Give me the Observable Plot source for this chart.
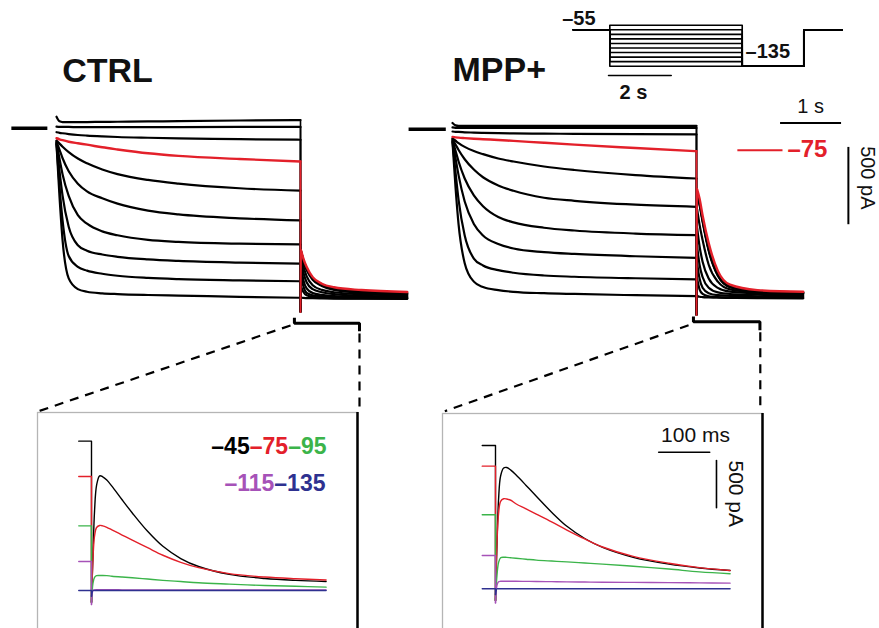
<!DOCTYPE html>
<html><head><meta charset="utf-8">
<script src="https://cdn.jsdelivr.net/npm/d3@7"></script>
<script src="https://cdn.jsdelivr.net/npm/@observablehq/plot@0.6"></script>
<style>
body{margin:0;background:#fff;}
#fig{position:relative;width:879px;height:628px;overflow:hidden;background:#fff;}
#fig svg{position:absolute;}
</style></head><body><div id="fig"></div>
<script>
// ---------- data ----------
const stepVoltages = [-45,-55,-65,-75,-85,-95,-105,-115,-125,-135]; // mV
const redVoltage = -75;
const stepTimes = [0,0.05,0.1,0.2,0.35,0.5,0.75,1,1.5,2,3,4];        // s
const stepDuration = 4;
const tailTimes = [0.01,0.05,0.1,0.2,0.35,0.55,1.0,1.75];            // s after step end

const ctrlStepCurrents = [ // pA
  [75,45,40,39,39,40,41,42,44,46,50,53],
  [10,8,8,8,7,7,7,7,7,7,8,8],
  [-26,-30,-33,-38,-44,-48,-53,-57,-62,-66,-71,-75],
  [-65,-72,-78,-88,-98,-107,-124,-138,-163,-180,-200,-216],
  [-80,-100,-120,-155,-197,-228,-268,-298,-336,-360,-390,-405],
  [-85,-140,-195,-280,-360,-410,-455,-490,-535,-560,-585,-599],
  [-90,-200,-300,-440,-565,-620,-670,-695,-725,-738,-750,-755],
  [-95,-280,-440,-640,-760,-795,-820,-835,-852,-862,-873,-880],
  [-100,-380,-600,-830,-900,-925,-945,-958,-972,-980,-988,-994],
  [-105,-450,-730,-975,-1045,-1062,-1072,-1077,-1083,-1087,-1095,-1101]
];
const ctrlTailCurrents = [
  [-800,-860,-910,-975,-1015,-1040,-1060,-1070],
  [-800,-862,-915,-980,-1020,-1045,-1065,-1075],
  [-810,-870,-920,-985,-1025,-1050,-1068,-1078],
  [-794,-850,-900,-967,-1010,-1033,-1051,-1064],
  [-820,-900,-960,-1020,-1050,-1065,-1078,-1085],
  [-850,-940,-1000,-1045,-1065,-1078,-1088,-1092],
  [-900,-990,-1040,-1070,-1082,-1090,-1095,-1098],
  [-960,-1030,-1070,-1085,-1092,-1097,-1100,-1102],
  [-1030,-1065,-1085,-1095,-1100,-1103,-1105,-1106],
  [-1101,-1102,-1103,-1104,-1105,-1106,-1107,-1108]
];
const mppStepCurrents = [
  [40,25,22,22,22,22,22,22,22,22,22,22],
  [12,9,8,8,8,8,8,8,8,8,8,8],
  [-15,-17,-18,-20,-22,-24,-26,-27,-29,-30,-32,-34],
  [-50,-53,-55,-58,-62,-65,-70,-76,-88,-100,-122,-143],
  [-60,-75,-90,-115,-142,-162,-190,-210,-242,-265,-298,-320],
  [-65,-100,-135,-195,-262,-312,-365,-400,-445,-465,-490,-504],
  [-70,-140,-210,-320,-430,-500,-570,-605,-640,-658,-678,-688],
  [-75,-190,-300,-470,-615,-690,-745,-775,-798,-810,-825,-835],
  [-80,-280,-460,-690,-840,-885,-915,-932,-950,-958,-968,-975],
  [-85,-380,-620,-870,-990,-1025,-1045,-1056,-1065,-1070,-1078,-1084]
];
const mppTailCurrents = [
  [-420,-480,-590,-780,-945,-1022,-1050,-1060],
  [-420,-482,-592,-782,-948,-1024,-1052,-1062],
  [-430,-490,-600,-790,-952,-1026,-1054,-1064],
  [-390,-450,-560,-740,-920,-1010,-1045,-1056],
  [-520,-620,-720,-880,-990,-1040,-1058,-1065],
  [-640,-760,-860,-970,-1030,-1055,-1065,-1070],
  [-760,-880,-960,-1030,-1060,-1070,-1075,-1078],
  [-870,-970,-1030,-1065,-1078,-1082,-1085,-1087],
  [-970,-1040,-1070,-1085,-1090,-1092,-1094,-1095],
  [-1084,-1088,-1090,-1092,-1094,-1095,-1097,-1098]
];
const ctrlHoldingTimes = [-0.74,-0.15];
const mppHoldingTimes = [-0.72,-0.11];
const ctrlTransient = -1194, mppTransient = -1207;

// zoom bracket and connector lines, in each panel's (s, pA)
const ctrlBracketT = [3.90,3.90,4.967,4.967], ctrlBracketI = [-1231,-1266,-1266,-1318];
const mppBracketT  = [3.95,3.95,5.04,5.04],   mppBracketI  = [-1216,-1251,-1251,-1305];
const ctrlDiagT = [3.836,-0.311], ctrlDiagI = [-1281,-1840];
const ctrlVertT = [4.967,4.967],  ctrlVertI = [-1333,-1846];
const mppDiagT  = [3.87,-0.126],  mppDiagI  = [-1273,-1831];
const mppVertT  = [5.046,5.046],  mppVertI  = [-1318,-1838];

// scale bars (main traces)
const timeBarT = [5.37,6.37], timeBarI = 40.9;
const currentBarT = 6.49, currentBarI = [-115,-617];
const redKeyT = [4.67,5.41], redKeyI = -136;

// voltage protocol
const protocolTimes = [-1.167,0,4.224,6.188,7.413]; // s
const holdingV = -55, tailV = -135;
const protocolBarT = [-0.041,1.958], protocolBarV = -155.4;

// insets (ms, pA) — tail currents after stepping to -135 mV
const insetTimes = [0,3,6,10,16,22,30,40,60,80,110,140,175,210,270,340,400,460];
const insetLabels = ["–45","–75","–95","–115","–135"];
const ctrlInsetPre = [1589,1213,688,309,0], ctrlInsetPreStart = -25;
const ctrlInsetCurrents = [
  [-124,400,850,1120,1220,1210,1175,1110,965,825,630,470,340,255,172,128,108,96],
  [-124,350,580,670,692,688,672,645,590,535,455,375,300,243,180,143,125,112],
  [-124,80,140,158,160,160,158,152,143,135,122,108,95,82,68,53,45,36],
  [-150,0,6,8,8,8,8,8,7,7,7,7,7,6,6,6,5,5],
  [-60,0,0,0,0,0,0,0,0,0,0,0,0,0,0,0,0,0]
];
const mppInsetPre = [1525,1305,787,354,0], mppInsetPreStart = -26;
const mppInsetCurrents = [
  [-124,500,950,1200,1285,1290,1262,1212,1100,985,815,665,535,440,335,262,222,195],
  [-124,500,800,930,958,955,942,905,850,795,712,625,530,445,345,272,225,195],
  [-124,150,280,330,336,334,330,325,315,305,295,286,274,262,240,210,180,160],
  [-150,40,75,80,81,81,80,80,79,78,76,74,72,70,68,66,63,60],
  [-60,0,0,0,0,0,0,0,0,0,0,0,0,0,0,0,0,0]
];
const insetBarT = [320,420], insetBarI = 1453;
const insetVBarT = 433.3, insetVBarI = [1365,862];

// ---------- drawing ----------
const RED = "#e3202a", GREEN = "#3bb44a", PURPLE = "#a652b8", NAVY = "#2e3190", BOX = "#b5b5b5";
const FONT = '"Liberation Sans", Arial, Helvetica, sans-serif';
const fig = document.getElementById("fig");

function place(svg, left, top) {
  svg.style.left = left + "px"; svg.style.top = top + "px";
  fig.appendChild(svg);
}
function base(w, h, xd, yd, marks) {
  return Plot.plot({
    width: w, height: h, marginTop: 0, marginRight: 0, marginBottom: 0, marginLeft: 0,
    x: {domain: xd, axis: null}, y: {domain: yd, axis: null},
    style: {background: "none", overflow: "visible", fontFamily: FONT, position: "absolute"},
    marks
  });
}
const pts = (T, I) => T.map((t, i) => ({t, I: Array.isArray(I) ? I[i] : I}));

function mainPanel(o) {
  const curves = [], drops = [];
  stepVoltages.forEach((v, k) => {
    const s = o.step[k], tl = o.tail[k];
    stepTimes.forEach((t, i) => curves.push({t, I: s[i], key: v + "s", v}));
    tailTimes.forEach((dt, i) => curves.push({t: stepDuration + dt, I: tl[i], key: v + "t", v}));
    drops.push({t: stepDuration, I: s[s.length - 1], key: v, v});
    drops.push({t: stepDuration, I: o.transient, key: v, v});
    drops.push({t: stepDuration + tailTimes[0], I: tl[0], key: v, v});
  });
  const red = d => d.v === redVoltage, blk = d => d.v !== redVoltage;
  const marks = [
    Plot.line(pts(o.holding, 0), {x: "t", y: "I", stroke: "black", strokeWidth: 3.4, strokeLinecap: "butt"}),
    Plot.line(drops.filter(blk), {x: "t", y: "I", z: "key", stroke: "black", strokeWidth: 1.6}),
    Plot.line(curves.filter(blk), {x: "t", y: "I", z: "key", stroke: "black", strokeWidth: 2.2, curve: "monotone-x"}),
    Plot.line(drops.filter(red), {x: "t", y: "I", z: "key", stroke: RED, strokeWidth: 1.8}),
    Plot.line(curves.filter(red), {x: "t", y: "I", z: "key", stroke: RED, strokeWidth: 2.4, curve: "monotone-x"}),
    Plot.line(pts(o.bracketT, o.bracketI), {x: "t", y: "I", stroke: "black", strokeWidth: 3, strokeLinecap: "butt", strokeLinejoin: "miter"}),
    Plot.line(pts(o.diagT, o.diagI), {x: "t", y: "I", stroke: "black", strokeWidth: 2.2, strokeDasharray: "9,7", strokeLinecap: "butt"}),
    Plot.line(pts(o.vertT, o.vertI), {x: "t", y: "I", stroke: "black", strokeWidth: 2.2, strokeDasharray: "9,7", strokeLinecap: "butt"}),
    Plot.text([o.title], {x: "t", y: "I", text: "label", textAnchor: "start", lineAnchor: "bottom", fontSize: 34, fontWeight: "bold", fill: "#111"})
  ];
  return base(o.w, o.h, o.xd, o.yd, marks.concat(o.extra || []));
}

const A = mainPanel({
  step: ctrlStepCurrents, tail: ctrlTailCurrents, holding: ctrlHoldingTimes, transient: ctrlTransient,
  bracketT: ctrlBracketT, bracketI: ctrlBracketI, diagT: ctrlDiagT, diagI: ctrlDiagI, vertT: ctrlVertT, vertI: ctrlVertI,
  title: {t: 0.093, I: 296.8, label: "CTRL"},
  w: 420, h: 380, xd: [-0.918, 5.967], yd: [-1898, 569.5]
});
place(A, 0, 40);

const B = mainPanel({
  step: mppStepCurrents, tail: mppTailCurrents, holding: mppHoldingTimes, transient: mppTransient,
  bracketT: mppBracketT, bracketI: mppBracketI, diagT: mppDiagT, diagI: mppDiagI, vertT: mppVertT, vertI: mppVertI,
  title: {t: 0.0, I: 311.7, label: "MPP+"},
  w: 483.3, h: 378.7, xd: [-0.918, 7.005], yd: [-1889.6, 569.5],
  extra: [
    Plot.line(pts(timeBarT, timeBarI), {x: "t", y: "I", stroke: "black", strokeWidth: 2, strokeLinecap: "butt"}),
    Plot.text([{t: 5.87, I: 108, label: "1 s"}], {x: "t", y: "I", text: "label", textAnchor: "middle", lineAnchor: "bottom", fontSize: 20, fill: "#111"}),
    Plot.line(pts(redKeyT, redKeyI), {x: "t", y: "I", stroke: RED, strokeWidth: 2, strokeLinecap: "butt"}),
    Plot.text([{t: 5.49, I: -182, label: "–75"}], {x: "t", y: "I", text: "label", textAnchor: "start", lineAnchor: "bottom", fontSize: 24, fontWeight: "bold", fill: RED}),
    Plot.line(pts([currentBarT, currentBarT], currentBarI), {x: "t", y: "I", stroke: "black", strokeWidth: 2, strokeLinecap: "butt"}),
    Plot.text([{t: 6.80, I: -110, label: "500 pA"}], {x: "t", y: "I", text: "label", rotate: 90, textAnchor: "start", lineAnchor: "middle", fontSize: 20, fill: "#111"})
  ]
});
place(B, 395.7, 41.3);

// protocol
(function () {
  const rows = [];
  const [t0, t1, t2, t3, t4] = protocolTimes;
  stepVoltages.forEach(v => {
    [[t0, holdingV], [t1, holdingV], [t1, v], [t2, v], [t2, tailV], [t3, tailV], [t3, holdingV], [t4, holdingV]]
      .forEach(([t, V]) => rows.push({t, V, v}));
  });
  const C = base(329, 110, [-1.892, 8.603], [-232.4, 9.4], [
    Plot.line(rows, {x: "t", y: "V", z: "v", stroke: "black", strokeWidth: 1.6}),
    Plot.line(protocolBarT.map(t => ({t, V: protocolBarV})), {x: "t", y: "V", stroke: "black", strokeWidth: 1.6}),
    Plot.text([{t: -1.518, V: -43.4, label: "–55"}, {t: 4.329, V: -116.5, label: "–135"}],
      {x: "t", y: "V", text: "label", textAnchor: "start", lineAnchor: "bottom", fontSize: 20, fontWeight: "bold", fill: "#111"}),
    Plot.text([{t: 0.756, V: -208.2, label: "2 s"}],
      {x: "t", y: "V", text: "label", textAnchor: "middle", lineAnchor: "bottom", fontSize: 20, fontWeight: "bold", fill: "#111"})
  ]);
  place(C, 550, 0);
})();

// insets
const insetColors = ["black", RED, GREEN, PURPLE, NAVY];
function insetPanel(o) {
  const lin = [], cur = [];
  o.cur.forEach((vals, k) => {
    lin.push({t: o.preStart, I: o.pre[k], k}, {t: 0, I: o.pre[k], k}, {t: 0, I: vals[0], k});
    insetTimes.forEach((t, i) => cur.push({t, I: vals[i], k}));
  });
  const marks = [Plot.frame({stroke: BOX, strokeWidth: 1.3})];
  insetColors.forEach((c, k) => {
    marks.push(Plot.line(lin.filter(d => d.k === k), {x: "t", y: "I", stroke: c, strokeWidth: 1.4}));
    marks.push(Plot.line(cur.filter(d => d.k === k), {x: "t", y: "I", stroke: c, strokeWidth: 1.4, curve: "catmull-rom"}));
  });
  marks.push(Plot.ruleX([o.xd[1]], {stroke: "black", strokeWidth: 2.5}));
  return base(320, 230, o.xd, o.yd, marks.concat(o.extra));
}

const legendRow1 = [0, 1, 2], legendRow2 = [3, 4];
const D = insetPanel({
  cur: ctrlInsetCurrents, pre: ctrlInsetPre, preStart: ctrlInsetPreStart,
  xd: [-105.88, 521.57], yd: [-553.2, 1893.6],
  extra: [
    ...legendRow1.map((k, j) => Plot.text([{t: 460.8, I: 1454, label: insetLabels[k]}],
      {x: "t", y: "I", text: "label", textAnchor: "end", lineAnchor: "bottom", dx: -38.4 * (2 - j), fontSize: 23, fontWeight: "bold", fill: insetColors[k]})),
    ...legendRow2.map((k, j) => Plot.text([{t: 458.8, I: 1056, label: insetLabels[k]}],
      {x: "t", y: "I", text: "label", textAnchor: "end", lineAnchor: "bottom", dx: -51.2 * (1 - j), fontSize: 23, fontWeight: "bold", fill: insetColors[k]}))
  ]
});
place(D, 37, 412);

const E = insetPanel({
  cur: mppInsetCurrents, pre: mppInsetPre, preStart: mppInsetPreStart,
  xd: [-103.92, 523.53], yd: [-581.9, 1864.9],
  extra: [
    Plot.line(pts(insetBarT, insetBarI), {x: "t", y: "I", stroke: "black", strokeWidth: 1.6}),
    Plot.text([{t: 392.2, I: 1559.6, label: "100 ms"}], {x: "t", y: "I", text: "label", textAnchor: "middle", lineAnchor: "bottom", fontSize: 21, fill: "#111"}),
    Plot.line(pts([insetVBarT, insetVBarT], insetVBarI), {x: "t", y: "I", stroke: "black", strokeWidth: 1.6}),
    Plot.text([{t: 470.6, I: 1365, label: "500 pA"}], {x: "t", y: "I", text: "label", rotate: 90, textAnchor: "start", lineAnchor: "middle", fontSize: 21, fill: "#111"})
  ]
});
place(E, 442, 413);
</script></body></html>
